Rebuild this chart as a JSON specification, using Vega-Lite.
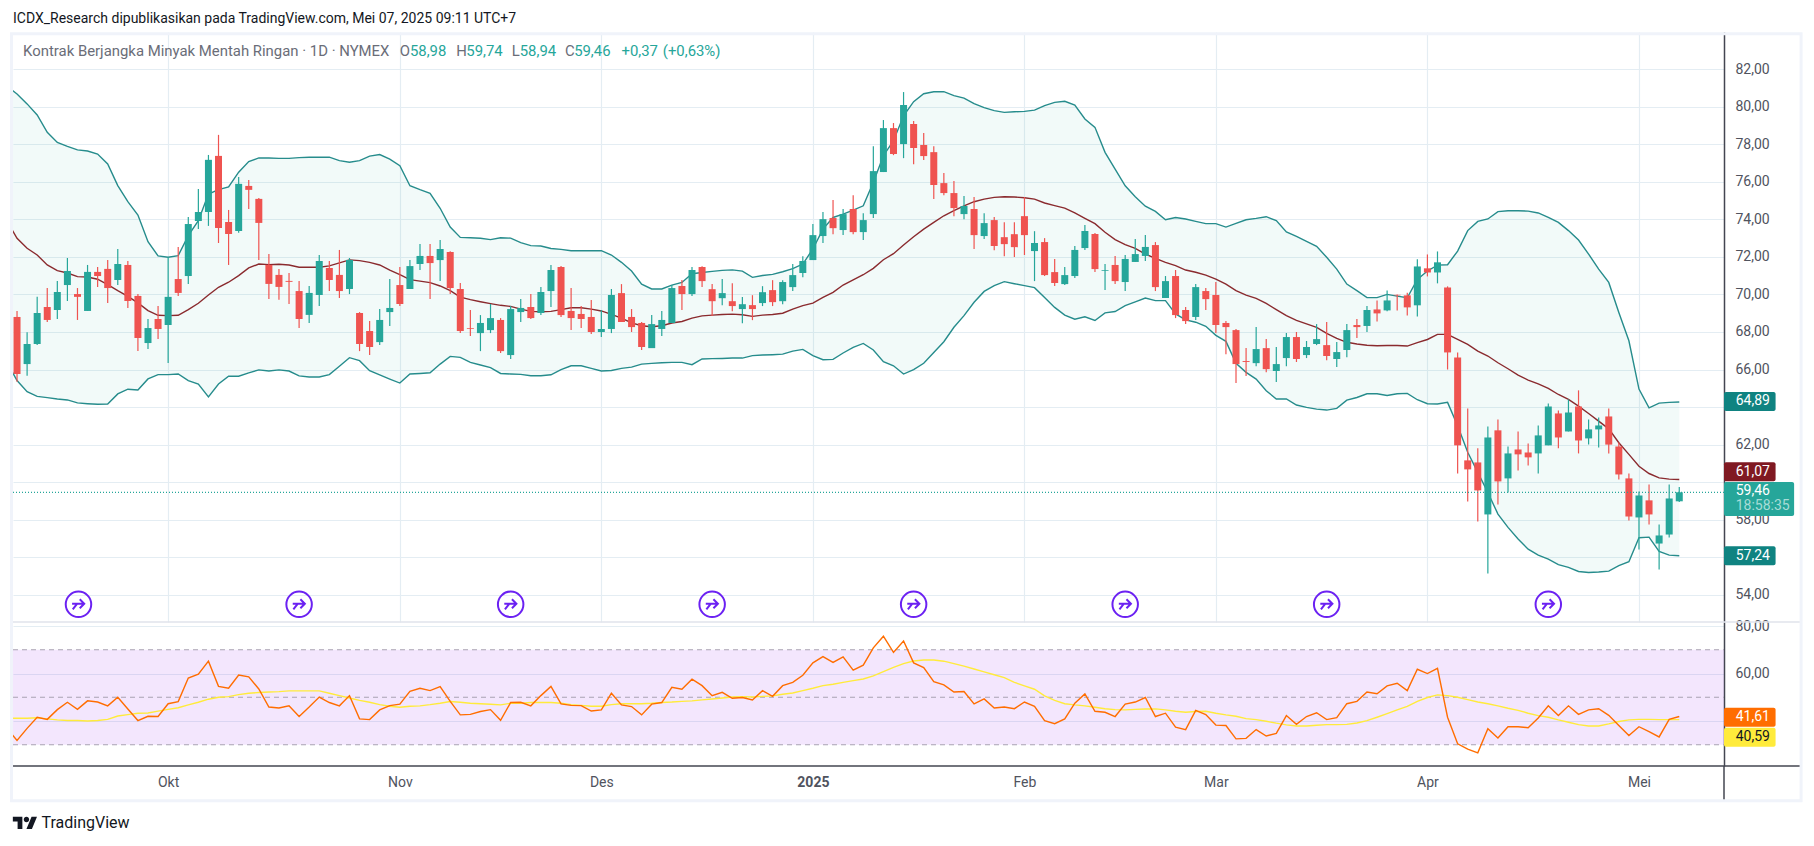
{
"$schema":"https://vega.github.io/schema/vega-lite/v6.json",
"background":"#ffffff",
"padding":{"left":10,"top":12,"right":10,"bottom":12},
"bounds":"flush",
"spacing":0,
"config":{"view":{"stroke":null},"text":{"font":"Roboto"},"axis":{"labelFont":"Roboto","labelFontSize":14,"labelColor":"#50535e","gridColor":"#e4edf3","gridWidth":1.2}},
"datasets":{"bars":[
{"n":-1,"u":81.1,"m":73.9,"b":66.4,"r":37.0,"s":41.2},
{"n":0,"o":68.80,"h":69.12,"l":65.35,"c":65.76,"u":80.68,"m":72.99,"b":65.41,"r":31.8,"s":41.2},
{"n":1,"o":66.29,"h":67.98,"l":65.67,"c":67.36,"u":80.15,"m":72.46,"b":64.82,"r":36.9,"s":41.2},
{"n":2,"o":67.36,"h":69.87,"l":67.31,"c":69.01,"u":79.56,"m":72.10,"b":64.57,"r":41.6,"s":41.4},
{"n":3,"o":69.33,"h":70.34,"l":68.53,"c":68.64,"u":78.64,"m":71.57,"b":64.50,"r":40.7,"s":40.9},
{"n":4,"o":69.17,"h":70.72,"l":68.69,"c":70.13,"u":78.10,"m":71.27,"b":64.43,"r":44.8,"s":40.5},
{"n":5,"o":70.50,"h":71.94,"l":69.65,"c":71.25,"u":77.89,"m":71.14,"b":64.38,"r":47.9,"s":40.2},
{"n":6,"o":70.02,"h":70.34,"l":68.64,"c":69.87,"u":77.70,"m":70.95,"b":64.22,"r":44.9,"s":40.2},
{"n":7,"o":69.12,"h":71.57,"l":69.12,"c":71.20,"u":77.64,"m":70.93,"b":64.18,"r":48.5,"s":40.0},
{"n":8,"o":71.20,"h":71.46,"l":70.40,"c":70.98,"u":77.48,"m":70.81,"b":64.15,"r":48.0,"s":40.2},
{"n":9,"o":71.36,"h":71.84,"l":69.55,"c":70.34,"u":76.95,"m":70.52,"b":64.16,"r":46.4,"s":40.7},
{"n":10,"o":70.77,"h":72.42,"l":70.50,"c":71.62,"u":75.80,"m":70.20,"b":64.70,"r":50.0,"s":42.1},
{"n":11,"o":71.57,"h":71.78,"l":69.28,"c":69.65,"u":74.94,"m":69.90,"b":64.95,"r":45.1,"s":42.7},
{"n":12,"o":69.92,"h":70.02,"l":66.99,"c":67.68,"u":74.23,"m":69.55,"b":64.91,"r":40.2,"s":43.3},
{"n":13,"o":67.41,"h":68.69,"l":67.09,"c":68.21,"u":72.81,"m":69.14,"b":65.50,"r":42.0,"s":43.4},
{"n":14,"o":68.69,"h":69.39,"l":67.63,"c":68.16,"u":72.05,"m":68.89,"b":65.73,"r":41.9,"s":44.2},
{"n":15,"o":68.37,"h":72.00,"l":66.35,"c":69.87,"u":71.98,"m":68.87,"b":65.73,"r":47.3,"s":44.9},
{"n":16,"o":70.82,"h":72.53,"l":69.92,"c":70.08,"u":72.07,"m":68.89,"b":65.76,"r":48.2,"s":45.6},
{"n":17,"o":70.98,"h":74.13,"l":70.56,"c":73.75,"u":73.13,"m":69.19,"b":65.41,"r":58.1,"s":46.8},
{"n":18,"o":73.91,"h":75.62,"l":73.49,"c":74.39,"u":73.93,"m":69.53,"b":65.23,"r":59.7,"s":47.9},
{"n":19,"o":74.39,"h":77.43,"l":73.65,"c":77.17,"u":75.35,"m":69.97,"b":64.54,"r":65.2,"s":49.2},
{"n":20,"o":77.38,"h":78.50,"l":72.74,"c":73.54,"u":75.58,"m":70.38,"b":65.23,"r":54.6,"s":50.0},
{"n":21,"o":73.86,"h":74.50,"l":71.57,"c":73.22,"u":75.73,"m":70.65,"b":65.64,"r":53.8,"s":50.3},
{"n":22,"o":73.38,"h":76.26,"l":73.28,"c":75.89,"u":76.51,"m":71.00,"b":65.64,"r":59.4,"s":51.1},
{"n":23,"o":75.78,"h":76.10,"l":74.55,"c":75.57,"u":77.08,"m":71.41,"b":65.82,"r":58.6,"s":51.7},
{"n":24,"o":75.09,"h":75.14,"l":71.84,"c":73.81,"u":77.27,"m":71.62,"b":65.98,"r":53.5,"s":52.0},
{"n":25,"o":71.57,"h":72.16,"l":69.76,"c":70.56,"u":77.27,"m":71.59,"b":65.92,"r":45.9,"s":52.2},
{"n":26,"o":71.04,"h":71.36,"l":69.71,"c":70.40,"u":77.25,"m":71.61,"b":65.98,"r":45.5,"s":52.4},
{"n":27,"o":70.72,"h":71.14,"l":69.49,"c":70.67,"u":77.25,"m":71.57,"b":65.92,"r":46.4,"s":52.7},
{"n":28,"o":70.18,"h":70.72,"l":68.21,"c":68.69,"u":77.29,"m":71.45,"b":65.66,"r":41.9,"s":52.7},
{"n":29,"o":68.91,"h":70.45,"l":68.48,"c":70.08,"u":77.31,"m":71.45,"b":65.60,"r":45.9,"s":52.7},
{"n":30,"o":69.97,"h":72.10,"l":69.39,"c":71.78,"u":77.31,"m":71.45,"b":65.60,"r":50.1,"s":52.7},
{"n":31,"o":71.41,"h":71.78,"l":70.18,"c":70.77,"u":77.31,"m":71.52,"b":65.73,"r":47.8,"s":51.7},
{"n":32,"o":71.04,"h":72.37,"l":69.81,"c":70.18,"u":77.13,"m":71.68,"b":66.17,"r":46.4,"s":50.7},
{"n":33,"o":70.29,"h":71.94,"l":70.02,"c":71.84,"u":77.04,"m":71.84,"b":66.63,"r":50.7,"s":49.7},
{"n":34,"o":69.01,"h":69.06,"l":66.98,"c":67.36,"u":77.13,"m":71.80,"b":66.47,"r":40.9,"s":48.7},
{"n":35,"o":68.05,"h":68.58,"l":66.77,"c":67.20,"u":77.37,"m":71.71,"b":65.94,"r":40.6,"s":47.9},
{"n":36,"o":67.46,"h":69.22,"l":67.30,"c":68.64,"u":77.45,"m":71.57,"b":65.71,"r":44.7,"s":46.9},
{"n":37,"o":69.06,"h":70.82,"l":68.32,"c":69.28,"u":77.21,"m":71.30,"b":65.49,"r":46.5,"s":46.2},
{"n":38,"o":70.50,"h":71.46,"l":69.38,"c":69.49,"u":76.86,"m":71.05,"b":65.28,"r":47.1,"s":45.8},
{"n":39,"o":70.29,"h":71.83,"l":70.29,"c":71.51,"u":75.79,"m":70.79,"b":65.76,"r":52.5,"s":46.2},
{"n":40,"o":71.62,"h":72.69,"l":71.30,"c":72.05,"u":75.58,"m":70.71,"b":65.79,"r":53.8,"s":46.4},
{"n":41,"o":72.05,"h":72.69,"l":69.75,"c":71.67,"u":75.39,"m":70.63,"b":65.83,"r":52.8,"s":46.9},
{"n":42,"o":71.83,"h":72.90,"l":70.71,"c":72.42,"u":74.59,"m":70.45,"b":66.29,"r":54.5,"s":47.5},
{"n":43,"o":72.26,"h":72.30,"l":70.02,"c":70.34,"u":73.59,"m":70.20,"b":66.70,"r":48.3,"s":48.2},
{"n":44,"o":70.29,"h":70.61,"l":67.94,"c":68.05,"u":73.04,"m":69.86,"b":66.65,"r":42.6,"s":47.9},
{"n":45,"o":68.21,"h":69.17,"l":67.78,"c":68.17,"u":73.02,"m":69.72,"b":66.38,"r":42.8,"s":47.5},
{"n":46,"o":67.94,"h":68.90,"l":66.98,"c":68.48,"u":72.99,"m":69.61,"b":66.24,"r":44.0,"s":47.3},
{"n":47,"o":68.10,"h":69.49,"l":67.94,"c":68.74,"u":72.92,"m":69.51,"b":66.10,"r":44.8,"s":47.1},
{"n":48,"o":68.64,"h":68.74,"l":66.88,"c":66.98,"u":73.02,"m":69.42,"b":65.79,"r":40.3,"s":46.8},
{"n":49,"o":66.77,"h":69.38,"l":66.56,"c":69.22,"u":73.00,"m":69.36,"b":65.76,"r":47.8,"s":47.5},
{"n":50,"o":69.06,"h":69.75,"l":68.53,"c":69.28,"u":72.76,"m":69.22,"b":65.74,"r":47.9,"s":47.5},
{"n":51,"o":69.33,"h":70.02,"l":68.69,"c":68.74,"u":72.60,"m":69.10,"b":65.67,"r":46.4,"s":47.8},
{"n":52,"o":69.01,"h":70.39,"l":68.90,"c":70.13,"u":72.58,"m":69.08,"b":65.67,"r":50.7,"s":47.8},
{"n":53,"o":70.18,"h":71.57,"l":69.33,"c":71.30,"u":72.45,"m":69.10,"b":65.72,"r":54.6,"s":47.8},
{"n":54,"o":71.46,"h":71.51,"l":68.80,"c":68.90,"u":72.40,"m":69.19,"b":65.99,"r":47.2,"s":47.5},
{"n":55,"o":69.12,"h":70.34,"l":68.10,"c":68.74,"u":72.33,"m":69.29,"b":66.20,"r":46.6,"s":46.9},
{"n":56,"o":68.96,"h":69.38,"l":68.21,"c":68.69,"u":72.33,"m":69.29,"b":66.20,"r":46.5,"s":46.6},
{"n":57,"o":68.80,"h":69.70,"l":67.89,"c":68.00,"u":72.33,"m":69.22,"b":66.06,"r":44.2,"s":46.2},
{"n":58,"o":68.00,"h":69.17,"l":67.73,"c":68.16,"u":72.33,"m":69.12,"b":65.92,"r":44.7,"s":46.2},
{"n":59,"o":68.16,"h":70.29,"l":67.94,"c":69.97,"u":72.10,"m":68.94,"b":65.95,"r":51.7,"s":46.9},
{"n":60,"o":70.07,"h":70.55,"l":68.53,"c":68.53,"u":71.71,"m":68.74,"b":66.06,"r":46.8,"s":47.3},
{"n":61,"o":68.80,"h":69.22,"l":68.00,"c":68.26,"u":71.25,"m":68.48,"b":66.13,"r":46.1,"s":47.3},
{"n":62,"o":68.48,"h":68.53,"l":67.04,"c":67.20,"u":70.55,"m":68.33,"b":66.29,"r":42.6,"s":47.3},
{"n":63,"o":67.14,"h":68.90,"l":67.14,"c":68.42,"u":70.29,"m":68.28,"b":66.33,"r":47.1,"s":47.5},
{"n":64,"o":68.16,"h":69.12,"l":67.78,"c":68.64,"u":70.29,"m":68.33,"b":66.36,"r":47.8,"s":47.8},
{"n":65,"o":68.48,"h":70.50,"l":68.48,"c":70.34,"u":70.50,"m":68.48,"b":66.38,"r":54.2,"s":48.0},
{"n":66,"o":70.45,"h":70.77,"l":69.17,"c":70.02,"u":70.64,"m":68.56,"b":66.38,"r":53.4,"s":48.3},
{"n":67,"o":70.02,"h":71.46,"l":69.91,"c":71.30,"u":71.10,"m":68.74,"b":66.26,"r":57.6,"s":48.5},
{"n":68,"o":71.46,"h":71.50,"l":70.39,"c":70.71,"u":71.17,"m":68.86,"b":66.56,"r":54.9,"s":48.9},
{"n":69,"o":70.28,"h":70.55,"l":68.85,"c":69.64,"u":71.23,"m":68.90,"b":66.58,"r":50.7,"s":49.3},
{"n":70,"o":69.80,"h":70.82,"l":69.43,"c":70.07,"u":71.28,"m":68.93,"b":66.59,"r":52.1,"s":49.7},
{"n":71,"o":69.64,"h":70.60,"l":69.11,"c":69.38,"u":71.31,"m":68.95,"b":66.61,"r":49.6,"s":50.1},
{"n":72,"o":69.22,"h":69.86,"l":68.47,"c":69.48,"u":71.24,"m":68.92,"b":66.61,"r":49.9,"s":50.3},
{"n":73,"o":69.43,"h":69.96,"l":68.63,"c":69.22,"u":70.91,"m":68.83,"b":66.74,"r":48.9,"s":50.1},
{"n":74,"o":69.54,"h":70.44,"l":69.38,"c":70.12,"u":71.01,"m":68.90,"b":66.77,"r":52.8,"s":50.4},
{"n":75,"o":70.23,"h":70.76,"l":69.38,"c":69.59,"u":71.07,"m":68.93,"b":66.79,"r":50.4,"s":50.6},
{"n":76,"o":69.64,"h":70.76,"l":69.48,"c":70.66,"u":71.21,"m":69.00,"b":66.82,"r":54.9,"s":51.3},
{"n":77,"o":70.39,"h":71.62,"l":70.18,"c":71.03,"u":71.37,"m":69.22,"b":66.98,"r":56.3,"s":51.8},
{"n":78,"o":71.14,"h":72.04,"l":70.92,"c":71.78,"u":71.62,"m":69.40,"b":67.07,"r":59.3,"s":52.8},
{"n":79,"o":71.83,"h":73.75,"l":71.83,"c":73.16,"u":72.42,"m":69.54,"b":66.74,"r":64.5,"s":53.8},
{"n":80,"o":73.11,"h":74.39,"l":72.74,"c":74.01,"u":73.48,"m":69.84,"b":66.52,"r":67.1,"s":54.9},
{"n":81,"o":74.07,"h":75.03,"l":73.21,"c":73.53,"u":74.10,"m":70.11,"b":66.54,"r":64.7,"s":55.5},
{"n":82,"o":73.43,"h":74.55,"l":73.16,"c":74.28,"u":74.28,"m":70.50,"b":66.88,"r":67.0,"s":56.3},
{"n":83,"o":74.55,"h":75.29,"l":73.21,"c":73.32,"u":74.49,"m":70.78,"b":67.18,"r":61.4,"s":57.0},
{"n":84,"o":73.32,"h":74.33,"l":72.90,"c":73.96,"u":74.72,"m":71.05,"b":67.39,"r":63.5,"s":57.7},
{"n":85,"o":74.28,"h":77.90,"l":74.07,"c":76.57,"u":75.97,"m":71.39,"b":67.04,"r":70.8,"s":59.0},
{"n":86,"o":76.52,"h":79.29,"l":76.52,"c":78.86,"u":77.39,"m":71.85,"b":66.42,"r":75.7,"s":60.8},
{"n":87,"o":78.86,"h":79.13,"l":77.42,"c":77.48,"u":78.19,"m":72.17,"b":66.20,"r":68.9,"s":62.6},
{"n":88,"o":78.01,"h":80.78,"l":77.26,"c":80.09,"u":79.52,"m":72.63,"b":65.76,"r":73.7,"s":64.2},
{"n":89,"o":79.08,"h":79.24,"l":76.94,"c":77.80,"u":80.27,"m":73.07,"b":65.99,"r":64.5,"s":65.3},
{"n":90,"o":77.96,"h":78.60,"l":77.16,"c":77.37,"u":80.69,"m":73.48,"b":66.33,"r":62.5,"s":65.7},
{"n":91,"o":77.58,"h":77.90,"l":75.08,"c":75.83,"u":80.80,"m":73.84,"b":66.91,"r":56.6,"s":65.7},
{"n":92,"o":75.93,"h":76.47,"l":75.29,"c":75.40,"u":80.80,"m":74.19,"b":67.48,"r":55.2,"s":65.2},
{"n":93,"o":75.40,"h":76.04,"l":74.17,"c":74.60,"u":80.59,"m":74.46,"b":68.25,"r":52.2,"s":64.2},
{"n":94,"o":74.28,"h":75.24,"l":74.01,"c":74.71,"u":80.46,"m":74.72,"b":68.87,"r":52.4,"s":63.1},
{"n":95,"o":74.55,"h":75.19,"l":72.42,"c":73.16,"u":80.16,"m":74.94,"b":69.58,"r":47.2,"s":61.9},
{"n":96,"o":73.11,"h":74.33,"l":72.95,"c":73.80,"u":79.95,"m":75.08,"b":70.16,"r":49.3,"s":60.7},
{"n":97,"o":73.96,"h":74.12,"l":72.36,"c":72.58,"u":79.79,"m":75.17,"b":70.47,"r":45.5,"s":59.5},
{"n":98,"o":73.05,"h":73.85,"l":72.04,"c":72.68,"u":79.70,"m":75.20,"b":70.68,"r":45.9,"s":58.3},
{"n":99,"o":73.21,"h":73.85,"l":71.99,"c":72.52,"u":79.73,"m":75.19,"b":70.57,"r":45.2,"s":56.3},
{"n":100,"o":74.17,"h":75.19,"l":72.10,"c":73.16,"u":79.75,"m":75.15,"b":70.47,"r":48.0,"s":54.8},
{"n":101,"o":72.31,"h":73.37,"l":70.71,"c":72.74,"u":79.82,"m":75.08,"b":70.36,"r":46.2,"s":53.4},
{"n":102,"o":72.79,"h":73.00,"l":70.98,"c":71.03,"u":80.06,"m":74.87,"b":69.83,"r":40.2,"s":50.6},
{"n":103,"o":71.19,"h":71.89,"l":70.45,"c":70.61,"u":80.23,"m":74.73,"b":69.31,"r":38.9,"s":48.7},
{"n":104,"o":70.55,"h":71.46,"l":70.50,"c":71.03,"u":80.29,"m":74.60,"b":68.90,"r":40.9,"s":47.3},
{"n":105,"o":70.98,"h":72.58,"l":70.87,"c":72.37,"u":80.09,"m":74.34,"b":68.68,"r":47.5,"s":46.8},
{"n":106,"o":72.47,"h":73.70,"l":72.37,"c":73.38,"u":79.35,"m":74.05,"b":68.81,"r":51.4,"s":46.4},
{"n":107,"o":73.22,"h":73.27,"l":71.19,"c":71.35,"u":78.90,"m":73.77,"b":68.61,"r":44.1,"s":45.8},
{"n":108,"o":71.26,"h":71.62,"l":70.23,"c":71.30,"u":77.57,"m":73.31,"b":69.02,"r":43.7,"s":45.2},
{"n":109,"o":71.57,"h":72.05,"l":70.55,"c":70.71,"u":76.68,"m":72.92,"b":69.09,"r":41.9,"s":44.8},
{"n":110,"o":70.66,"h":72.10,"l":70.18,"c":71.89,"u":75.79,"m":72.65,"b":69.40,"r":47.1,"s":44.7},
{"n":111,"o":71.73,"h":72.95,"l":71.73,"c":72.15,"u":75.20,"m":72.45,"b":69.60,"r":48.0,"s":44.9},
{"n":112,"o":72.05,"h":73.17,"l":71.78,"c":72.53,"u":74.70,"m":72.15,"b":69.81,"r":49.9,"s":45.1},
{"n":113,"o":72.63,"h":72.79,"l":70.18,"c":70.39,"u":74.42,"m":71.92,"b":69.67,"r":41.9,"s":45.1},
{"n":114,"o":69.81,"h":70.98,"l":69.81,"c":70.71,"u":73.98,"m":71.71,"b":69.67,"r":43.3,"s":44.7},
{"n":115,"o":70.98,"h":71.30,"l":68.74,"c":68.90,"u":74.10,"m":71.53,"b":68.96,"r":37.4,"s":44.1},
{"n":116,"o":69.17,"h":69.33,"l":68.42,"c":68.58,"u":74.02,"m":71.30,"b":68.64,"r":36.4,"s":43.7},
{"n":117,"o":68.80,"h":70.55,"l":68.64,"c":70.39,"u":73.89,"m":71.18,"b":68.52,"r":44.5,"s":44.0},
{"n":118,"o":70.18,"h":70.34,"l":69.17,"c":69.75,"u":73.77,"m":71.03,"b":68.30,"r":42.7,"s":44.1},
{"n":119,"o":69.97,"h":70.66,"l":67.94,"c":68.37,"u":73.77,"m":70.82,"b":67.82,"r":38.3,"s":43.3},
{"n":120,"o":68.48,"h":68.58,"l":66.82,"c":68.26,"u":73.59,"m":70.55,"b":67.50,"r":38.1,"s":42.6},
{"n":121,"o":68.10,"h":68.16,"l":65.28,"c":66.29,"u":73.79,"m":70.20,"b":66.33,"r":32.5,"s":42.0},
{"n":122,"o":66.45,"h":67.14,"l":65.65,"c":66.40,"u":73.98,"m":69.96,"b":65.85,"r":32.7,"s":41.0},
{"n":123,"o":66.34,"h":68.26,"l":66.18,"c":67.09,"u":74.05,"m":69.79,"b":65.49,"r":36.4,"s":40.6},
{"n":124,"o":67.14,"h":67.62,"l":65.86,"c":66.02,"u":74.14,"m":69.52,"b":64.87,"r":33.7,"s":39.9},
{"n":125,"o":65.92,"h":67.20,"l":65.33,"c":66.29,"u":73.93,"m":69.19,"b":64.43,"r":34.8,"s":39.1},
{"n":126,"o":66.61,"h":67.94,"l":66.18,"c":67.73,"u":73.33,"m":68.87,"b":64.43,"r":42.3,"s":38.4},
{"n":127,"o":67.73,"h":68.00,"l":66.40,"c":66.56,"u":73.09,"m":68.62,"b":64.11,"r":38.6,"s":37.9},
{"n":128,"o":66.77,"h":67.52,"l":66.61,"c":67.20,"u":72.83,"m":68.43,"b":63.98,"r":41.9,"s":37.9},
{"n":129,"o":67.36,"h":68.42,"l":67.30,"c":67.62,"u":72.56,"m":68.25,"b":63.89,"r":43.5,"s":38.2},
{"n":130,"o":67.30,"h":68.53,"l":66.50,"c":66.72,"u":71.98,"m":67.93,"b":63.84,"r":40.6,"s":38.5},
{"n":131,"o":66.56,"h":67.46,"l":66.13,"c":66.93,"u":71.35,"m":67.66,"b":63.93,"r":41.4,"s":38.5},
{"n":132,"o":67.04,"h":68.42,"l":66.66,"c":68.10,"u":70.55,"m":67.45,"b":64.37,"r":47.3,"s":38.6},
{"n":133,"o":68.37,"h":68.69,"l":67.68,"c":68.26,"u":70.20,"m":67.36,"b":64.51,"r":48.3,"s":39.2},
{"n":134,"o":68.32,"h":69.38,"l":68.00,"c":69.17,"u":69.83,"m":67.29,"b":64.71,"r":52.2,"s":40.2},
{"n":135,"o":69.20,"h":69.68,"l":68.56,"c":68.99,"u":69.83,"m":67.27,"b":64.71,"r":51.5,"s":41.6},
{"n":136,"o":69.15,"h":70.21,"l":69.10,"c":69.68,"u":70.00,"m":67.28,"b":64.62,"r":54.8,"s":43.1},
{"n":137,"o":69.98,"h":70.00,"l":69.15,"c":69.95,"u":69.91,"m":67.28,"b":64.71,"r":55.9,"s":44.7},
{"n":138,"o":69.95,"h":70.09,"l":68.88,"c":69.31,"u":69.82,"m":67.25,"b":64.73,"r":52.8,"s":46.2},
{"n":139,"o":69.42,"h":71.87,"l":68.83,"c":71.49,"u":70.80,"m":67.43,"b":64.39,"r":61.8,"s":48.3},
{"n":140,"o":71.39,"h":72.13,"l":70.96,"c":71.17,"u":71.25,"m":67.60,"b":64.18,"r":60.0,"s":49.9},
{"n":141,"o":71.17,"h":72.29,"l":70.59,"c":71.71,"u":71.56,"m":67.87,"b":64.16,"r":62.2,"s":51.0},
{"n":142,"o":70.37,"h":70.43,"l":66.00,"c":66.91,"u":71.58,"m":67.87,"b":64.25,"r":41.6,"s":50.7},
{"n":143,"o":66.64,"h":66.91,"l":60.46,"c":61.96,"u":72.31,"m":67.60,"b":63.01,"r":30.4,"s":50.0},
{"n":144,"o":61.16,"h":63.93,"l":58.97,"c":60.68,"u":73.40,"m":67.34,"b":61.59,"r":28.2,"s":49.0},
{"n":145,"o":61.05,"h":61.80,"l":57.90,"c":59.56,"u":73.89,"m":66.98,"b":60.52,"r":26.6,"s":48.0},
{"n":146,"o":58.28,"h":62.97,"l":55.14,"c":62.38,"u":74.02,"m":66.72,"b":59.45,"r":36.8,"s":47.3},
{"n":147,"o":62.76,"h":63.34,"l":58.81,"c":60.04,"u":74.41,"m":66.36,"b":58.30,"r":32.9,"s":46.4},
{"n":148,"o":60.20,"h":61.90,"l":59.45,"c":61.53,"u":74.46,"m":66.04,"b":57.59,"r":37.6,"s":45.4},
{"n":149,"o":61.74,"h":62.70,"l":60.62,"c":61.48,"u":74.46,"m":65.70,"b":56.97,"r":37.6,"s":44.5},
{"n":150,"o":61.58,"h":62.06,"l":60.89,"c":61.32,"u":74.44,"m":65.44,"b":56.43,"r":37.2,"s":43.3},
{"n":151,"o":61.53,"h":63.02,"l":60.46,"c":62.49,"u":74.34,"m":65.24,"b":56.11,"r":41.3,"s":42.3},
{"n":152,"o":61.96,"h":64.19,"l":61.96,"c":64.03,"u":74.11,"m":64.99,"b":55.90,"r":46.4,"s":41.6},
{"n":153,"o":63.66,"h":63.82,"l":61.80,"c":62.38,"u":73.84,"m":64.67,"b":55.61,"r":42.3,"s":40.5},
{"n":154,"o":62.70,"h":64.41,"l":62.70,"c":63.71,"u":73.40,"m":64.41,"b":55.46,"r":46.4,"s":39.5},
{"n":155,"o":64.03,"h":64.89,"l":61.53,"c":62.22,"u":72.90,"m":64.05,"b":55.24,"r":42.8,"s":38.5},
{"n":156,"o":62.33,"h":63.34,"l":62.00,"c":62.81,"u":72.15,"m":63.66,"b":55.19,"r":44.7,"s":37.9},
{"n":157,"o":62.81,"h":63.45,"l":61.85,"c":63.02,"u":71.35,"m":63.25,"b":55.21,"r":45.2,"s":37.9},
{"n":158,"o":63.50,"h":63.93,"l":61.53,"c":62.00,"u":70.64,"m":62.84,"b":55.26,"r":42.4,"s":38.8},
{"n":159,"o":61.90,"h":62.11,"l":60.14,"c":60.41,"u":69.04,"m":62.10,"b":55.55,"r":38.1,"s":39.8},
{"n":160,"o":60.20,"h":60.46,"l":57.96,"c":58.17,"u":67.53,"m":61.48,"b":55.76,"r":33.9,"s":40.5},
{"n":161,"o":58.12,"h":59.50,"l":56.41,"c":59.29,"u":64.96,"m":60.85,"b":57.04,"r":37.6,"s":40.7},
{"n":162,"o":59.03,"h":59.88,"l":57.74,"c":58.28,"u":63.96,"m":60.46,"b":57.07,"r":35.5,"s":40.7},
{"n":163,"o":56.73,"h":57.74,"l":55.35,"c":57.16,"u":64.21,"m":60.23,"b":56.31,"r":33.3,"s":40.6},
{"n":164,"o":57.21,"h":59.88,"l":57.05,"c":59.13,"u":64.25,"m":60.16,"b":56.11,"r":40.7,"s":40.6},
{"n":165,"o":58.98,"h":59.74,"l":58.94,"c":59.46,"u":64.27,"m":60.14,"b":56.08,"r":41.9,"s":40.6}
]},
"vconcat":[
{"width":1711,"height":590,
"encoding":{
 "x":{"type":"quantitative","scale":{"domain":[-0.4,169.44],"nice":false,"zero":false,"padding":0},"axis":{"values":[15,38,58,79,100,119,140,161],"labels":false,"ticks":false,"domain":false,"title":null}},
 "y":{"type":"quantitative","scale":{"domain":[52.55,83.98],"nice":false,"zero":false,"padding":0},"axis":{"orient":"right","values":[54,56,58,60,62,64,66,68,70,72,74,76,78,80,82],"labelExpr":"indexof([56,60,64],datum.value)>=0?'':replace(format(datum.value,'.2f'),'.',',')","title":null,"tickSize":0,"labelPadding":11,"domainColor":"#434651","domainWidth":1.5,"labelOverlap":false,"labelBound":false}}},
"layer":[
{"data":{"name":"bars"},"mark":{"type":"area","color":"#26a69a","opacity":0.06,"clip":true},"encoding":{"x":{"field":"n"},"y":{"field":"u"},"y2":{"field":"b"}}},
{"data":{"name":"bars"},"mark":{"type":"line","color":"#268c8c","strokeWidth":1.4,"clip":true},"encoding":{"x":{"field":"n"},"y":{"field":"u"}}},
{"data":{"name":"bars"},"mark":{"type":"line","color":"#268c8c","strokeWidth":1.4,"clip":true},"encoding":{"x":{"field":"n"},"y":{"field":"b"}}},
{"data":{"name":"bars"},"mark":{"type":"line","color":"#8a2a2e","strokeWidth":1.4,"clip":true},"encoding":{"x":{"field":"n"},"y":{"field":"m"}}},
{"data":{"name":"bars"},"mark":{"type":"rule","strokeWidth":1.2},
 "encoding":{"x":{"field":"n"},"y":{"field":"l"},"y2":{"field":"h"},"color":{"condition":{"test":"datum.c>=datum.o","value":"#26a69a"},"value":"#ef5350"}}},
{"data":{"name":"bars"},"mark":{"type":"bar","size":7},
 "encoding":{"x":{"field":"n"},"y":{"field":"o"},"y2":{"field":"c"},"color":{"condition":{"test":"datum.c>=datum.o","value":"#26a69a"},"value":"#ef5350"}}},
{"data":{"values":[{"last":59.46}]},"mark":{"type":"rule","color":"#26a69a","strokeDash":[1,2],"strokeWidth":1.2},
 "encoding":{"x":{"datum":-0.4},"x2":{"datum":169.44},"y":{"field":"last"}}},
{"data":{"values":[{"n":6.1,"p":53.49},{"n":28,"p":53.49},{"n":49,"p":53.49},{"n":69,"p":53.49},{"n":89,"p":53.49},{"n":110,"p":53.49},{"n":130,"p":53.49},{"n":152,"p":53.49}]},
 "mark":{"type":"point","filled":false,"size":650,"strokeWidth":2,"color":"#6b21f2","opacity":1,"clip":false,"shape":"M1 0A1 1 0 1 1 -1 0A1 1 0 1 1 1 0ZM-0.5 -0.05L0.45 -0.05M0.1 -0.4L0.45 -0.05L0.1 0.3M-0.1 -0.05L-0.45 0.4"},
 "encoding":{"x":{"field":"n"},"y":{"field":"p"}}},
{"data":{"values":[{"key":"upper","p":64.30},{"key":"basis","p":60.55},{"key":"lower","p":56.08}]},
 "mark":{"type":"bar","orient":"horizontal","size":19,"cornerRadius":2,"clip":false},
 "encoding":{"x":{"datum":169.44},"x2":{"datum":174.56},"y":{"field":"p"},
  "color":{"condition":{"test":"datum.key=='basis'","value":"#801922"},"value":"#0f8381"}}},
{"data":{"values":[{"p":59.10}]},"mark":{"type":"bar","orient":"horizontal","size":34,"cornerRadius":2,"color":"#26a69a","clip":false},
 "encoding":{"x":{"datum":169.44},"x2":{"datum":176.4},"y":{"field":"p"}}},
{"data":{"values":[{"t":"64,89","p":64.30,"n":170.6},{"t":"61,07","p":60.55,"n":170.6},{"t":"57,24","p":56.08,"n":170.6},{"t":"59,46","p":59.54,"n":170.6}]},
 "mark":{"type":"text","align":"left","baseline":"middle","fontSize":14,"color":"#ffffff","clip":false},
 "encoding":{"x":{"field":"n"},"y":{"field":"p"},"text":{"field":"t"}}},
{"data":{"values":[{"t":"18:58:35","p":58.73,"n":170.6}]},
 "mark":{"type":"text","align":"left","baseline":"middle","fontSize":14,"color":"#a8dcd7","clip":false},
 "encoding":{"x":{"field":"n"},"y":{"field":"p"},"text":{"field":"t"}}},
{"data":{"values":[
 {"t":"Kontrak Berjangka Minyak Mentah Ringan · 1D · NYMEX","n":0.6,"p":82.9,"k":"name"},
 {"t":"O","n":38.0,"p":82.9,"k":"name"},{"t":"58,98","n":39.0,"p":82.9,"k":"val"},
 {"t":"H","n":43.6,"p":82.9,"k":"name"},{"t":"59,74","n":44.6,"p":82.9,"k":"val"},
 {"t":"L","n":49.1,"p":82.9,"k":"name"},{"t":"58,94","n":49.9,"p":82.9,"k":"val"},
 {"t":"C","n":54.4,"p":82.9,"k":"name"},{"t":"59,46","n":55.3,"p":82.9,"k":"val"},
 {"t":"+0,37","n":60.0,"p":82.9,"k":"val"},{"t":"(+0,63%)","n":64.1,"p":82.9,"k":"val"}
 ]},
 "mark":{"type":"text","align":"left","baseline":"middle","fontSize":14.9,"clip":false},
 "encoding":{"x":{"field":"n"},"y":{"field":"p"},"text":{"field":"t"},
  "color":{"condition":{"test":"datum.k=='val'","value":"#26a69a"},"value":"#6a6d78"}}},
{"data":{"values":[{"t":"ICDX_Research dipublikasikan pada TradingView.com, Mei 07, 2025 09:11 UTC+7","n":-0.4,"p":84.67}]},
 "mark":{"type":"text","align":"left","baseline":"middle","fontSize":14,"color":"#131722","clip":false},
 "encoding":{"x":{"field":"n"},"y":{"field":"p"},"text":{"field":"t"}}}
]},
{"width":1711,"height":144,
"encoding":{
 "x":{"type":"quantitative","scale":{"domain":[-0.4,169.44],"nice":false,"zero":false,"padding":0},
  "axis":{"values":[15,38,58,79,100,119,140,161],"labelExpr":"{15:'Okt',38:'Nov',58:'Des',79:'2025',100:'Feb',119:'Mar',140:'Apr',161:'Mei'}[datum.value]","labelFontWeight":{"condition":{"test":"datum.value==79","value":"bold"},"value":"normal"},"ticks":false,"domain":false,"title":null,"labelPadding":9,"labelOverlap":false,"labelBound":false,"labelFlush":false}},
 "y":{"type":"quantitative","scale":{"domain":[21.07,81.7],"nice":false,"zero":false,"padding":0},
  "axis":{"orient":"right","values":[40,60,80],"labelExpr":"datum.value==40?'':replace(format(datum.value,'.2f'),'.',',')","title":null,"tickSize":0,"labelPadding":11,"domainColor":"#434651","domainWidth":1.5,"labelOverlap":false,"labelBound":false}}},
"layer":[
{"data":{"values":[{"lo":30,"hi":70}]},"mark":{"type":"rect","color":"#8705eb","opacity":0.1},
 "encoding":{"x":{"datum":-0.4},"x2":{"datum":169.44},"y":{"field":"lo"},"y2":{"field":"hi"}}},
{"data":{"values":[{"v":70},{"v":50},{"v":30}]},"mark":{"type":"rule","color":"#a9a3b3","strokeDash":[5,4],"strokeWidth":1.1},
 "encoding":{"x":{"datum":-0.4},"x2":{"datum":169.44},"y":{"field":"v"}}},
{"data":{"name":"bars"},"mark":{"type":"line","color":"#ffeb3b","strokeWidth":1.4,"clip":true},"encoding":{"x":{"field":"n"},"y":{"field":"s"}}},
{"data":{"name":"bars"},"mark":{"type":"line","color":"#ff6d00","strokeWidth":1.4,"clip":true},"encoding":{"x":{"field":"n"},"y":{"field":"r"}}},
{"data":{"values":[{"key":"rsi","v":41.6},{"key":"ma","v":33.2}]},
 "mark":{"type":"bar","orient":"horizontal","size":19,"cornerRadius":2,"clip":false},
 "encoding":{"x":{"datum":169.44},"x2":{"datum":174.56},"y":{"field":"v"},
  "color":{"condition":{"test":"datum.key=='ma'","value":"#ffeb3b"},"value":"#ff6d00"}}},
{"data":{"values":[{"t":"41,61","v":41.6,"n":170.6,"key":"rsi"},{"t":"40,59","v":33.2,"n":170.6,"key":"ma"}]},
 "mark":{"type":"text","align":"left","baseline":"middle","fontSize":14,"clip":false},
 "encoding":{"x":{"field":"n"},"y":{"field":"v"},"text":{"field":"t"},
  "color":{"condition":{"test":"datum.key=='ma'","value":"#131722"},"value":"#ffffff"}}},
{"data":{"values":[{"v":81.7}]},"mark":{"type":"rule","color":"#e0e3eb","strokeWidth":1.5,"clip":false},
 "encoding":{"x":{"datum":-0.4},"x2":{"datum":177.09},"y":{"field":"v"}}},
{"data":{"values":[{"v":21.07}]},"mark":{"type":"rule","color":"#434651","strokeWidth":1.5,"clip":false},
 "encoding":{"x":{"datum":-0.4},"x2":{"datum":177.09},"y":{"field":"v"}}},
{"data":{"values":[{"a":21.07,"z":6.4}]},"mark":{"type":"rule","color":"#434651","strokeWidth":1.5,"clip":false},
 "encoding":{"x":{"datum":169.44},"y":{"field":"a"},"y2":{"field":"z"}}},
{"data":{"values":[{"a":6.4,"z":329.4}]},"mark":{"type":"rect","filled":false,"stroke":"#f0f3fa","strokeWidth":3,"clip":false},
 "encoding":{"x":{"datum":-0.546},"x2":{"datum":177.09},"y":{"field":"a"},"y2":{"field":"z"}}},
{"data":{"values":[{"t":"TradingView","n":2.43,"v":-2.9}]},
 "mark":{"type":"text","align":"left","baseline":"middle","fontSize":16,"color":"#131722","clip":false},
 "encoding":{"x":{"field":"n"},"y":{"field":"v"},"text":{"field":"t"}}},
{"data":{"values":[{"n":0.8,"v":-2.9}]},
 "mark":{"type":"point","filled":true,"size":600,"opacity":1,"color":"#131722","clip":false,"shape":"M-0.222 0.5H-0.611V-0.111H-1V-0.5H-0.222ZM0.556 0.5H0.111L0.528 -0.5H0.972ZM-0.111 -0.278a0.222 0.222 0 1 0 0.444 0a0.222 0.222 0 1 0 -0.444 0Z"},
 "encoding":{"x":{"field":"n"},"y":{"field":"v"}}}
]}
]
}
